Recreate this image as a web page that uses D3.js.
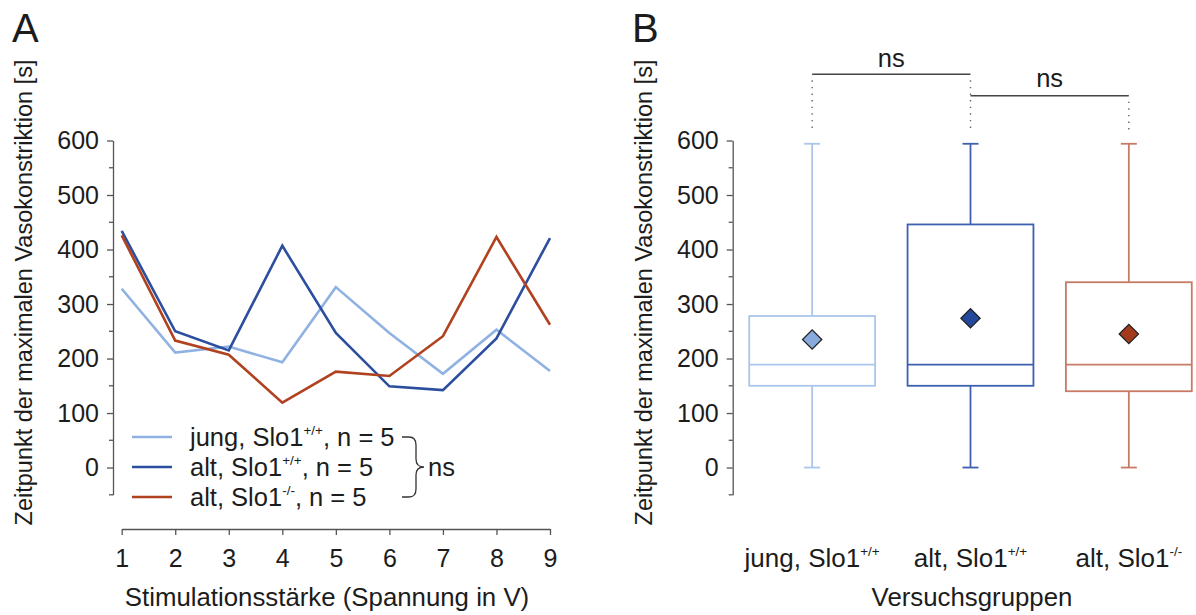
<!DOCTYPE html>
<html>
<head>
<meta charset="utf-8">
<script src="https://cdn.jsdelivr.net/npm/d3@7"></script>
<style>
  body { margin: 0; background: #fff; }
  svg text { font-family: 'Liberation Sans', Arial, sans-serif; fill: #1c1c1c; }
</style>
</head>
<body>
<svg id="chart" width="1196" height="615"></svg>
<script>
// Panel A data
const voltages = [1, 2, 3, 4, 5, 6, 7, 8, 9]
const jungWT = [328, 211, 222, 193, 331, 247, 172, 253, 177]
const altWT = [434, 250, 215, 407, 247, 149, 142, 237, 421]
const altKO = [426, 233, 207, 119, 176, 168, 241, 423, 262]

// Panel B data
const groupNames = ['jung, Slo1', 'alt, Slo1', 'alt, Slo1']
const groupSup = ['+/+', '+/+', '-/-']
const boxMin = [0, 0, 0]
const boxQ1 = [150, 150, 140]
const boxMedian = [189, 189, 189]
const boxQ3 = [278, 446, 340]
const boxMax = [594, 594, 594]
const boxMean = [235, 274, 245]

const yTicks = [0, 100, 200, 300, 400, 500, 600]
const yMinorTicks = [-50, 50, 150, 250, 350, 450, 550]

const lineColors = ['#8fb2e2', '#2b4e9e', '#b1421f']
const boxColors = ['#aac6ec', '#3d61b0', '#c77b66']
const meanColors = ['#88aadd', '#22479b', '#a33b1b']
const seriesNames = ['jung, Slo1', 'alt, Slo1', 'alt, Slo1']
const seriesSup = ['+/+', '+/+', '-/-']
const seriesN = [5, 5, 5]

const svg = d3.select('#chart')

const yScaleFor = () => d3.scaleLinear().domain([-50, 600]).range([494.8, 140.5])

const styleAxis = (g) => {
  g.selectAll('path.domain').attr('stroke', '#555').attr('stroke-width', 1.3)
  g.selectAll('.tick line').attr('stroke', '#555').attr('stroke-width', 1.3)
  g.selectAll('.tick text').style('font-size', '25px').attr('fill', '#1c1c1c')
    .style('font-family', "'Liberation Sans', Arial, sans-serif")
}

const drawYAxis = (yScale, x) => {
  const g = svg.append('g').attr('transform', `translate(${x},0)`)
  g.call(d3.axisLeft(yScale).tickValues(yTicks).tickSize(6).tickSizeOuter(0).tickPadding(8))
  styleAxis(g)
  g.selectAll('.minor')
    .data(yMinorTicks)
    .enter()
    .append('line')
    .attr('x1', -4).attr('x2', 0)
    .attr('y1', (d) => yScale(d)).attr('y2', (d) => yScale(d))
    .attr('stroke', '#555').attr('stroke-width', 1.3)
}

const addSupText = (sel, base, sup, tail, supSize) => {
  sel.append('tspan').text(base)
  sel.append('tspan').text(sup).attr('dy', -11).style('font-size', supSize + 'px')
  if (tail) sel.append('tspan').text(tail).attr('dy', 11)
}

// ---------- Panel A ----------
const drawPanelA = () => {
  const xScale = d3.scaleLinear().domain([1, 9]).range([121.7, 550])
  const yScale = yScaleFor()

  svg.append('text').attr('x', 12).attr('y', 42).style('font-size', '40px').attr('fill', '#222').text('A')

  drawYAxis(yScale, 113)

  const gx = svg.append('g').attr('transform', 'translate(0,529)')
  gx.call(d3.axisBottom(xScale).tickValues(voltages).tickFormat(d3.format('d'))
    .tickSize(6).tickSizeOuter(0).tickPadding(14))
  styleAxis(gx)

  svg.append('text')
    .attr('x', 327).attr('y', 606)
    .attr('text-anchor', 'middle')
    .style('font-size', '25.8px')
    .text('Stimulationsstärke (Spannung in V)')

  svg.append('text')
    .attr('transform', 'translate(32,292.5) rotate(-90)')
    .attr('text-anchor', 'middle')
    .style('font-size', '23.5px')
    .text('Zeitpunkt der maximalen Vasokonstriktion [s]')

  const line = d3.line().x((d, i) => xScale(voltages[i])).y((d) => yScale(d))
  const series = [jungWT, altWT, altKO]
  svg.selectAll('.series')
    .data(series)
    .enter()
    .append('path')
    .attr('d', (d) => line(d))
    .attr('fill', 'none')
    .attr('stroke', (d, i) => lineColors[i])
    .attr('stroke-width', 2.6)
    .attr('stroke-linejoin', 'miter')

  // legend
  const legTop = 437
  const rowH = 30
  const legend = svg.append('g')
  seriesNames.forEach((name, i) => {
    const y = legTop + i * rowH
    legend.append('line')
      .attr('x1', 132).attr('x2', 172).attr('y1', y).attr('y2', y)
      .attr('stroke', lineColors[i]).attr('stroke-width', 2.6)
    const t = legend.append('text').attr('x', 190).attr('y', y + 9).style('font-size', '25.5px').attr('fill', '#2a2a2a')
    addSupText(t, name, seriesSup[i], ', n = ' + seriesN[i], 13.5)
  })

  // brace
  const yTop = legTop
  const yBot = legTop + 2 * rowH
  const yMid = (yTop + yBot) / 2
  const p = d3.path()
  p.moveTo(402, yTop)
  p.lineTo(409, yTop)
  p.quadraticCurveTo(416, yTop, 416, yTop + 8)
  p.lineTo(416, yMid - 8)
  p.quadraticCurveTo(416, yMid, 424, yMid)
  p.quadraticCurveTo(416, yMid, 416, yMid + 8)
  p.lineTo(416, yBot - 8)
  p.quadraticCurveTo(416, yBot, 409, yBot)
  p.lineTo(402, yBot)
  legend.append('path').attr('d', p.toString()).attr('fill', 'none')
    .attr('stroke', '#333').attr('stroke-width', 1.3)
  legend.append('text').attr('x', 428).attr('y', yMid + 9).style('font-size', '25.5px').attr('fill', '#2a2a2a').text('ns')
}

// ---------- Panel B ----------
const drawPanelB = () => {
  const yScale = yScaleFor()
  const xScale = d3.scalePoint().domain([0, 1, 2]).range([733, 1208]).padding(0.5)
  const boxW = xScale.step() * 0.795
  const capW = 16

  svg.append('text').attr('x', 632).attr('y', 42).style('font-size', '40px').attr('fill', '#222').text('B')

  drawYAxis(yScale, 732.7)

  svg.append('text')
    .attr('transform', 'translate(652,292.5) rotate(-90)')
    .attr('text-anchor', 'middle')
    .style('font-size', '23.5px')
    .text('Zeitpunkt der maximalen Vasokonstriktion [s]')

  svg.append('text')
    .attr('x', 972).attr('y', 606)
    .attr('text-anchor', 'middle')
    .style('font-size', '25.8px')
    .text('Versuchsgruppen')

  const idx = [0, 1, 2]
  const g = svg.append('g')
  idx.forEach((i) => {
    const cx = xScale(i)
    const col = boxColors[i]
    // whiskers
    g.append('line').attr('x1', cx).attr('x2', cx)
      .attr('y1', yScale(boxQ3[i])).attr('y2', yScale(boxMax[i]))
      .attr('stroke', col).attr('stroke-width', 1.8)
    g.append('line').attr('x1', cx).attr('x2', cx)
      .attr('y1', yScale(boxQ1[i])).attr('y2', yScale(boxMin[i]))
      .attr('stroke', col).attr('stroke-width', 1.8)
    g.append('line').attr('x1', cx - capW / 2).attr('x2', cx + capW / 2)
      .attr('y1', yScale(boxMax[i])).attr('y2', yScale(boxMax[i]))
      .attr('stroke', col).attr('stroke-width', 1.8)
    g.append('line').attr('x1', cx - capW / 2).attr('x2', cx + capW / 2)
      .attr('y1', yScale(boxMin[i])).attr('y2', yScale(boxMin[i]))
      .attr('stroke', col).attr('stroke-width', 1.8)
    // box
    g.append('rect')
      .attr('x', cx - boxW / 2).attr('width', boxW)
      .attr('y', yScale(boxQ3[i])).attr('height', yScale(boxQ1[i]) - yScale(boxQ3[i]))
      .attr('fill', 'none').attr('stroke', col).attr('stroke-width', 1.8)
    g.append('line').attr('x1', cx - boxW / 2).attr('x2', cx + boxW / 2)
      .attr('y1', yScale(boxMedian[i])).attr('y2', yScale(boxMedian[i]))
      .attr('stroke', col).attr('stroke-width', 1.8)
    // mean
    g.append('path')
      .attr('d', d3.symbol().type(d3.symbolSquare).size(185)())
      .attr('transform', `translate(${cx},${yScale(boxMean[i])}) rotate(45)`)
      .attr('fill', meanColors[i]).attr('stroke', '#222').attr('stroke-width', 1.3)
    // category label
    const t = svg.append('text').attr('x', cx).attr('y', 567)
      .attr('text-anchor', 'middle').style('font-size', '26px').attr('fill', '#2a2a2a')
    addSupText(t, groupNames[i], groupSup[i], null, 13.5)
  })

  // significance brackets
  const brackets = [
    { a: 0, b: 1, y: 74.3, ly: 67 },
    { a: 1, b: 2, y: 95.7, ly: 87 },
  ]
  const dotBottom = 130
  brackets.forEach((br) => {
    g.append('line').attr('x1', xScale(br.a)).attr('x2', xScale(br.b))
      .attr('y1', br.y).attr('y2', br.y)
      .attr('stroke', '#444').attr('stroke-width', 1.5)
    g.append('text').attr('x', (xScale(br.a) + xScale(br.b)) / 2).attr('y', br.ly)
      .attr('text-anchor', 'middle').style('font-size', '25.5px').attr('fill', '#2a2a2a').text('ns')
  })
  const dotTops = [74.3, 74.3, 95.7]
  idx.forEach((i) => {
    g.append('line').attr('x1', xScale(i)).attr('x2', xScale(i))
      .attr('y1', dotTops[i] + 6).attr('y2', dotBottom)
      .attr('stroke', '#666').attr('stroke-width', 1.4)
      .attr('stroke-dasharray', '1.4,5.2')
  })
}

drawPanelA()
drawPanelB()
</script>
</body>
</html>
